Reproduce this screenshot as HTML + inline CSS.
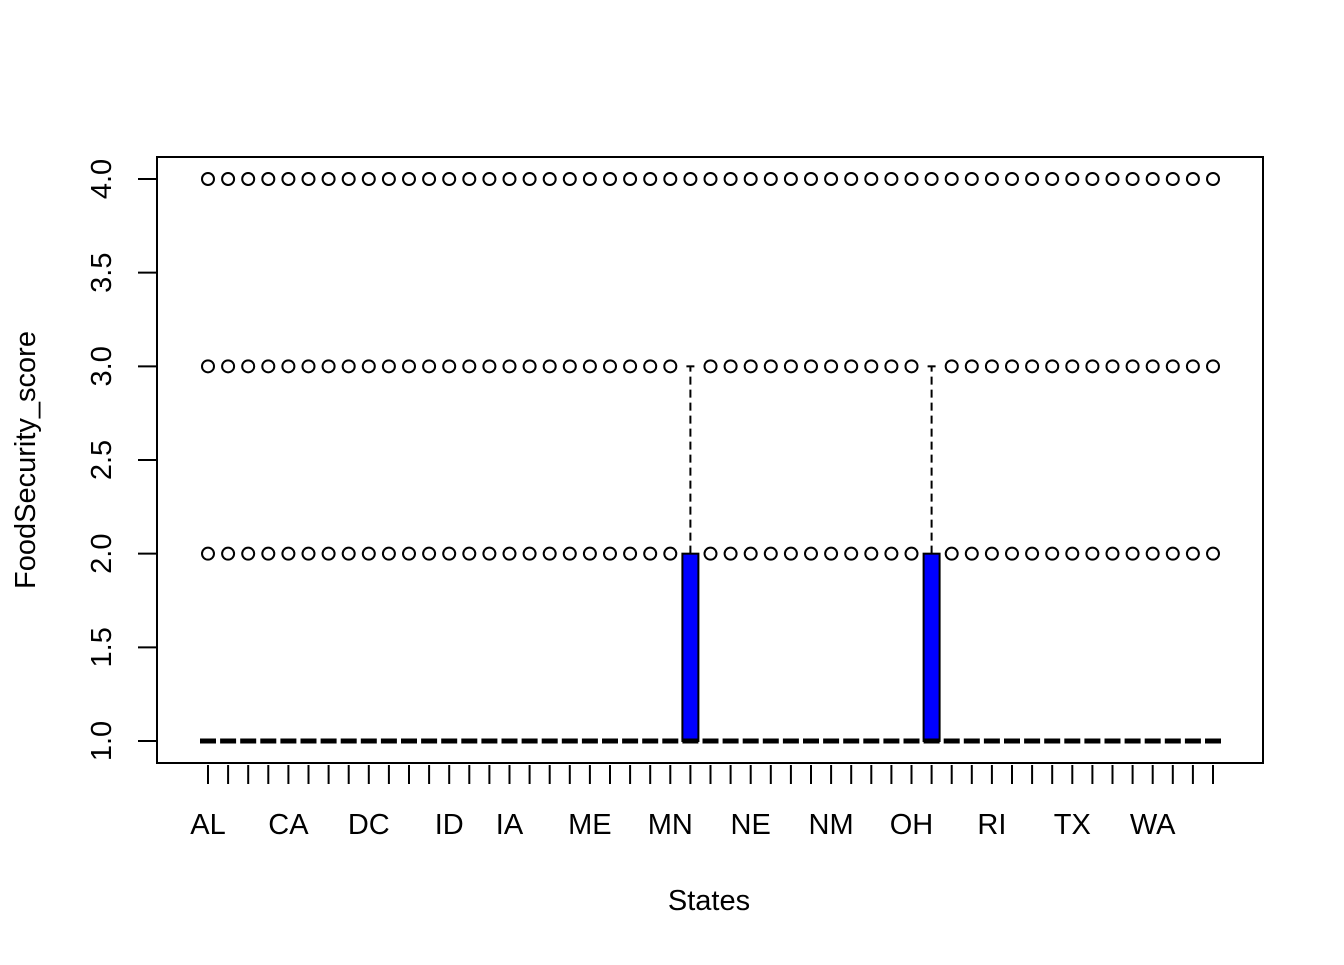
<!DOCTYPE html>
<html><head><meta charset="utf-8"><style>
body{margin:0;background:#fff}
svg text{font-family:"Liberation Sans",Arial,sans-serif;fill:#000}
</style></head><body>
<svg id="chart" width="1344" height="960" xmlns="http://www.w3.org/2000/svg">
<rect width="1344" height="960" fill="#fff"/>
<g id="marks"></g>
<rect x="157" y="157" width="1106" height="606" fill="none" stroke="#000" stroke-width="2"/>
<text x="709" y="910" font-size="29" text-anchor="middle">States</text>
<text transform="translate(35,460) rotate(-90)" font-size="29" text-anchor="middle">FoodSecurity_score</text>
</svg>
<script>
const states=["AL","AK","AZ","AR","CA","CO","CT","DE","DC","FL","GA","HI","ID","IL","IN","IA","KS","KY","LA","ME","MD","MA","MI","MN","MS","MO","MT","NE","NV","NH","NJ","NM","NY","NC","ND","OH","OK","OR","PA","RI","SC","SD","TN","TX","UT","VT","VA","WA","WV","WI","WY"];
const shownLabels=["AL","CA","DC","ID","IA","ME","MN","NE","NM","OH","RI","TX","WA"];
const medians=states.map(()=>1);
const q1=states.map(()=>1);
const q3=states.map((s,i)=>(i===24||i===36)?2:1);
const whiskerHi=states.map((s,i)=>(i===24||i===36)?3:1);
const outliers=states.map((s,i)=>(i===24||i===36)?[4]:[2,3,4]);
const yTicks=[1.0,1.5,2.0,2.5,3.0,3.5,4.0];
const yTickLabels=["1.0","1.5","2.0","2.5","3.0","3.5","4.0"];

const NS="http://www.w3.org/2000/svg";
const g=document.getElementById('marks');
const X=i=>208+i*(1213-208)/(states.length-1);
const Y=v=>741-(v-1)*(741-179)/3;
function mk(tag,attrs,parent){const e=document.createElementNS(NS,tag);for(const k in attrs)e.setAttribute(k,attrs[k]);(parent||g).appendChild(e);return e;}
const hw=8;
states.forEach((s,i)=>{
  const x=X(i);
  if(q3[i]>q1[i]){
    const b=mk('rect',{x:x-hw,y:Y(q3[i]),width:2*hw,height:Y(q1[i])-Y(q3[i]),fill:'#0000ff',stroke:'#000','stroke-width':2});
    
    
  }
  if(whiskerHi[i]>q3[i]){
    const w=mk('line',{x1:x,x2:x,y1:Y(q3[i]),y2:Y(whiskerHi[i]),stroke:'#000','stroke-width':2,'stroke-dasharray':'8,5'});
    
    
    const c=mk('line',{x1:x-4,x2:x+4,y1:Y(whiskerHi[i]),y2:Y(whiskerHi[i]),stroke:'#000','stroke-width':2});
    
    
  }
  const m=mk('line',{x1:x-hw,x2:x+hw,y1:Y(medians[i]),y2:Y(medians[i]),stroke:'#000','stroke-width':5});
  
  
  outliers[i].forEach(v=>{
    const o=mk('circle',{cx:x,cy:Y(v),r:6,fill:'none',stroke:'#000','stroke-width':2});
    
    
  });
  const t=mk('line',{x1:x,x2:x,y1:765,y2:784,stroke:'#000','stroke-width':2});
  
  
  if(shownLabels.includes(s)){
    const l=mk('text',{x:x,y:834,'font-size':29,'text-anchor':'middle'});
    l.textContent=s;
    
    
  }
});
yTicks.forEach((v,k)=>{
  const y=Y(v);
  const t=mk('line',{x1:138,x2:157,y1:y,y2:y,stroke:'#000','stroke-width':2});
  
  
  const l=mk('text',{transform:`translate(111,${y}) rotate(-90)`,'font-size':29,'text-anchor':'middle'});
  l.textContent=yTickLabels[k];
  
  
});
</script>
</body></html>
